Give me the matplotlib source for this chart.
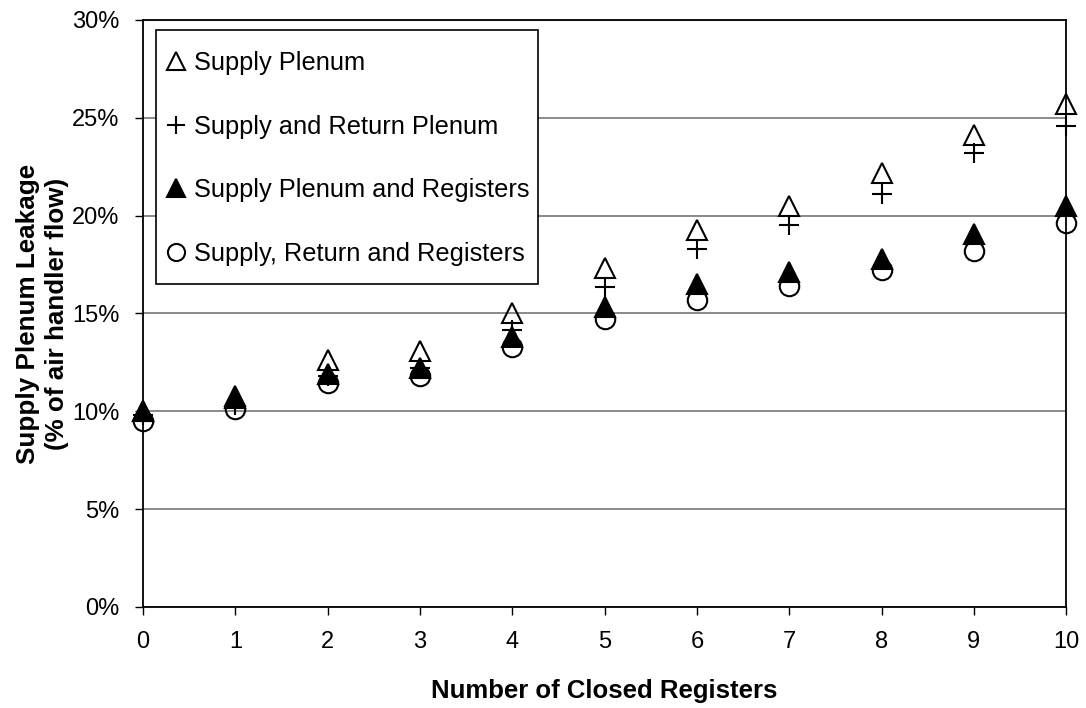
import matplotlib
matplotlib.use("Agg")
from matplotlib import pyplot as plt
from matplotlib.patches import Rectangle
from matplotlib.ticker import PercentFormatter

plt.rcParams['font.family'] = ['Liberation Sans', 'DejaVu Sans']

closed_registers = [0, 1, 2, 3, 4, 5, 6, 7, 8, 9, 10]
supply_plenum = [10.0, 10.7, 12.6, 13.1, 15.0, 17.3, 19.25, 20.5, 22.2, 24.1, 25.7]
supply_return_plenum = [9.8, 10.3, 11.8, 12.2, 14.15, 16.35, 18.3, 19.5, 21.1, 23.2, 24.6]
supply_plenum_registers = [10.0, 10.8, 11.9, 12.2, 13.8, 15.35, 16.5, 17.1, 17.8, 19.05, 20.5]
supply_return_registers = [9.5, 10.1, 11.45, 11.8, 13.3, 14.7, 15.7, 16.4, 17.2, 18.2, 19.6]

fig = plt.figure(figsize=(10.86, 7.08), dpi=100)
ax = fig.add_axes([0.1317, 0.1427, 0.85, 0.8291])

ms = 14
ax.plot(closed_registers, supply_plenum, linestyle='none', marker='^', markersize=ms,
        markerfacecolor='none', markeredgecolor='k', markeredgewidth=1.5, label='Supply Plenum')
ax.plot(closed_registers, supply_return_plenum, linestyle='none', marker='+', markersize=ms + 1,
        color='k', markeredgewidth=1.5, label='Supply and Return Plenum')
ax.plot(closed_registers, supply_plenum_registers, linestyle='none', marker='^', markersize=ms,
        markerfacecolor='k', markeredgecolor='k', markeredgewidth=1.5, label='Supply Plenum and Registers')
ax.plot(closed_registers, supply_return_registers, linestyle='none', marker='o', markersize=ms,
        markerfacecolor='none', markeredgecolor='k', markeredgewidth=1.5, label='Supply, Return and Registers')

ax.set_xlim(0, 10)
ax.set_ylim(0, 30)
ax.set_xticks(closed_registers)
ax.set_yticks([0, 5, 10, 15, 20, 25, 30])
ax.yaxis.set_major_formatter(PercentFormatter(decimals=0))
ax.tick_params(axis='both', labelsize=17, direction='out', length=6, width=1, color='k')
ax.tick_params(axis='x', pad=11)
ax.tick_params(axis='y', pad=11)
ax.grid(axis='y', color='#777777', linewidth=1.2)
ax.set_axisbelow(True)
for s in ax.spines.values():
    s.set_linewidth(1.3)
    s.set_color('k')
for p in ax.get_lines():
    p.set_clip_on(False)

ax.set_xlabel('Number of Closed Registers', fontsize=18.5, fontweight='bold', labelpad=19)
ax.set_ylabel('Supply Plenum Leakage\n(% of air handler flow)', fontsize=18.7,
              fontweight='bold', labelpad=2, linespacing=1.3)

# legend box drawn as a plain rectangle, entries laid out without a frame
ax.add_patch(Rectangle((0.0138, 0.5503), 0.4142, 0.4327, transform=ax.transAxes,
                       facecolor='white', edgecolor='k', linewidth=1.2, zorder=3,
                       clip_on=False))
leg = ax.legend(loc='upper left', bbox_to_anchor=(0.026, 0.947), fontsize=18.3,
                frameon=False, labelspacing=1.56, handlelength=0.7, handletextpad=0.35,
                markerscale=0.88, borderpad=0, borderaxespad=0)
leg.set_zorder(4)

fig.savefig('out.png', dpi=100)
